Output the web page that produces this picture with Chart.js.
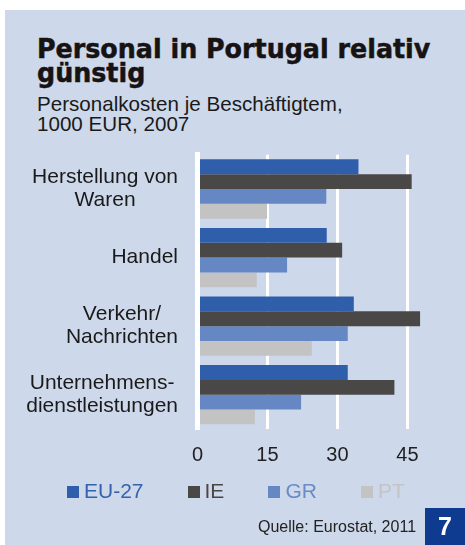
<!DOCTYPE html>
<html>
<head>
<meta charset="utf-8">
<script src="https://cdn.jsdelivr.net/npm/chart.js@4/dist/chart.umd.min.js"></script>
<style>
  html, body { margin: 0; padding: 0; background: #fff; }
  body { width: 465px; height: 545px; position: relative; overflow: hidden; font-family: "Liberation Sans", Arial, sans-serif; }
  #panel { position: absolute; left: 5px; top: 10px; right: 0; bottom: 0; background: #cdd8ea; }
  #chart { position: absolute; left: 0; top: 0; }
  .fit { position: absolute; left: 37px; white-space: nowrap; transform-origin: 0 0; color: #1a1a1a; }
  #title { font-family: "DejaVu Sans", sans-serif; font-weight: bold; font-size: 26px; line-height: 24px; top: 37px;
           color: #171313; -webkit-text-stroke: 0.5px #171313; }
  #sub { font-size: 21px; line-height: 20px; top: 94px; }
  #legend { position: absolute; left: 67px; top: 479px; display: flex; gap: 44px; font-size: 21px; line-height: 24px; }
  #legend span.box { display: inline-block; width: 12px; height: 12px; margin-right: 5px; vertical-align: 0px; }
  #source { position: absolute; left: 258px; top: 518px; font-size: 16px; color: #222; }
  #page { position: absolute; left: 425px; top: 508px; width: 40px; height: 37px; background: #0e3a8f; color: #fff;
          font-weight: bold; font-size: 25px; line-height: 37px; text-align: center; }
</style>
</head>
<body>
<div id="panel"></div>
<div id="title" class="fit">Personal in Portugal relativ<br>günstig</div>
<div id="sub" class="fit">Personalkosten je Beschäftigtem,<br>1000 EUR, 2007</div>
<canvas id="chart" width="465" height="545"></canvas>
<div id="legend"></div>
<div id="source">Quelle: Eurostat, 2011</div>
<div id="page">7</div>
<script>
// === Daten ===
const categories = [["Herstellung von", "Waren"], ["Handel"], ["Verkehr/", "Nachrichten"], ["Unternehmens-", "dienstleistungen"]];
const seriesNames = ["EU-27", "IE", "GR", "PT"];
const euValues = [34.5, 27.7, 33.5, 32.2];
const ieValues = [45.9, 31.0, 47.7, 42.2];
const grValues = [27.6, 19.2, 32.2, 22.2];
const ptValues = [14.9, 12.7, 24.5, 12.3];
const xTicks = [0, 15, 30, 45];

const barColors = ["#2f5fab", "#4a4747", "#6587c4", "#c3c3c3"];
const textColors = ["#3462ae", "#4a4646", "#6a8cc6", "#c4c4c4"];

// Titel auf Breite bringen
function fitWidth(el, target) {
  const w = el.scrollWidth;
  el.style.transform = `scaleX(${target / w})`;
}
fitWidth(document.getElementById("title"), 393);
fitWidth(document.getElementById("sub"), 306);

// === Legende ===
const legend = document.getElementById("legend");
seriesNames.forEach((name, i) => {
  const item = document.createElement("div");
  item.style.color = textColors[i];
  item.innerHTML = `<span class="box" style="background:${barColors[i]}"></span>${name}`;
  legend.appendChild(item);
});

// === Kategorien links zeichnen (Block rechtsbündig, Zeilen zentriert) ===
const categoryLabels = {
  id: "categoryLabels",
  afterDraw(chart) {
    const ctx = chart.ctx;
    const y = chart.scales.y;
    const lineH = 23;
    ctx.save();
    ctx.font = '21px "Liberation Sans", Arial, sans-serif';
    ctx.fillStyle = "#1a1a1a";
    ctx.textAlign = "center";
    ctx.textBaseline = "middle";
    categories.forEach((lines, i) => {
      const cy = y.getPixelForTick(i);
      const blockW = Math.max(...lines.map(l => ctx.measureText(l).width));
      const cx = 178 - blockW / 2;
      lines.forEach((l, j) => {
        ctx.fillText(l, cx, cy + (j - (lines.length - 1) / 2) * lineH);
      });
    });
    ctx.restore();
  }
};

const allValues = [euValues, ieValues, grValues, ptValues];

new Chart(document.getElementById("chart"), {
  type: "bar",
  data: {
    labels: categories,
    datasets: seriesNames.map((name, i) => ({
      label: name,
      data: allValues[i],
      backgroundColor: barColors[i],
      borderWidth: 0,
      barPercentage: 1,
      categoryPercentage: 0.865,
    })),
  },
  options: {
    indexAxis: "y",
    responsive: false,
    animation: false,
    layout: { padding: { left: 197.5, right: 34.2, top: 154.7, bottom: 64 } },
    plugins: { legend: { display: false }, tooltip: { enabled: false } },
    scales: {
      x: {
        min: 0,
        max: 50,
        afterBuildTicks: (scale) => { scale.ticks = xTicks.map(v => ({ value: v })); },
        ticks: { font: { family: "Liberation Sans", size: 20 }, color: "#1f1f1f", padding: 14 },
        grid: { color: "#ffffff", lineWidth: 3, drawTicks: false },
        border: { display: false },
      },
      y: {
        ticks: { display: false },
        grid: { display: false, drawTicks: false },
        border: { display: true, color: "#ffffff", width: 5, z: 1 },
        afterFit: (scale) => { scale.width = 0; },
      },
    },
  },
  plugins: [categoryLabels],
});
</script>
</body>
</html>
